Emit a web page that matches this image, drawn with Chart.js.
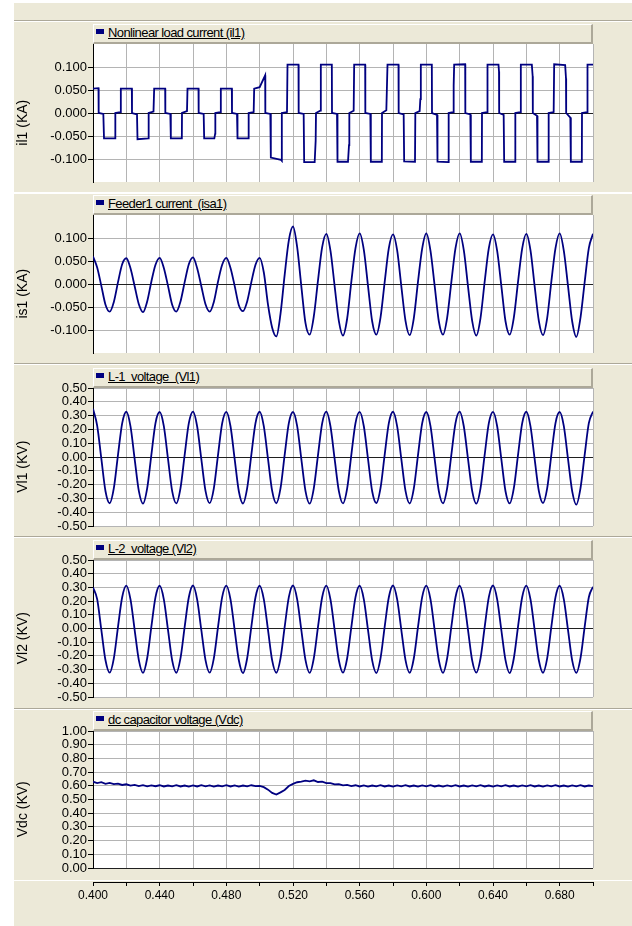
<!DOCTYPE html>
<html>
<head>
<meta charset="utf-8">
<script src="https://cdn.jsdelivr.net/npm/chart.js@4.4.1/dist/chart.umd.min.js"></script>
<style>
  body { margin:0; width:632px; height:926px; background:#fff; position:relative; overflow:hidden;
         font-family:"Liberation Sans", Arial, sans-serif; }
  #bg { position:absolute; left:14px; top:3px; width:618px; height:923px; background:#ece9d8; }
  .sep { position:absolute; left:14px; width:618px; height:1px; }
  .hdr { position:absolute; left:93px; width:500px; height:20px; box-sizing:border-box;
         border-top:1px solid #fff; border-left:1px solid #fff;
         border-right:2px solid #aca899; border-bottom:2px solid #aca899;
         background:#ece9d8; font-size:13px; letter-spacing:-0.6px; white-space:pre; line-height:16px; color:#000; }
  .hdr i { display:inline-block; width:8px; height:5px; background:#000080; margin:0 4px 0 2px; vertical-align:3px; }
  .hdr span { text-decoration:underline; }
  canvas { position:absolute; left:0; }
</style>
</head>
<body>
<div id="bg"></div>
<script>
// sample times (s) for the sampled waveforms
const sampleTime = [
  0.4000,0.4025,0.4050,0.4075,0.4100,0.4125,0.4150,0.4175,
  0.4200,0.4225,0.4250,0.4275,0.4300,0.4325,0.4350,0.4375,
  0.4400,0.4425,0.4450,0.4475,0.4500,0.4525,0.4550,0.4575,
  0.4600,0.4625,0.4650,0.4675,0.4700,0.4725,0.4750,0.4775,
  0.4800,0.4825,0.4850,0.4875,0.4900,0.4925,0.4950,0.4975,
  0.5000,0.5025,0.5050,0.5075,0.5100,0.5125,0.5150,0.5175,
  0.5200,0.5225,0.5250,0.5275,0.5300,0.5325,0.5350,0.5375,
  0.5400,0.5425,0.5450,0.5475,0.5500,0.5525,0.5550,0.5575,
  0.5600,0.5625,0.5650,0.5675,0.5700,0.5725,0.5750,0.5775,
  0.5800,0.5825,0.5850,0.5875,0.5900,0.5925,0.5950,0.5975,
  0.6000,0.6025,0.6050,0.6075,0.6100,0.6125,0.6150,0.6175,
  0.6200,0.6225,0.6250,0.6275,0.6300,0.6325,0.6350,0.6375,
  0.6400,0.6425,0.6450,0.6475,0.6500,0.6525,0.6550,0.6575,
  0.6600,0.6625,0.6650,0.6675,0.6700,0.6725,0.6750,0.6775,
  0.6800,0.6825,0.6850,0.6875,0.6900,0.6925,0.6950,0.6975,
  0.7000
];

// nonlinear load current il1 (kA) - breakpoints of the square-ish wave
const il1Time = [
  0.4000,0.4033,0.4034,0.4062,0.4066,0.4133,0.4134,0.4164,0.4167,
  0.4233,0.4234,0.4264,0.4267,0.4333,0.4334,0.4363,0.4367,
  0.4433,0.4434,0.4464,0.4467,0.4533,0.4534,0.4564,0.4567,
  0.4633,0.4634,0.4664,0.4667,0.4728,0.4733,0.4734,0.4764,0.4767,
  0.4833,0.4834,0.4864,0.4867,0.4933,0.4934,0.4964,0.4967,
  0.5000,0.5033,0.5034,0.5064,0.5067,0.5128,0.5132,0.5134,0.5164,0.5167,
  0.5233,0.5234,0.5264,0.5267,0.5330,0.5336,0.5338,0.5364,0.5367,
  0.5433,0.5434,0.5464,0.5467,0.5530,0.5536,0.5538,0.5564,0.5567,
  0.5633,0.5634,0.5664,0.5667,0.5733,0.5734,0.5760,0.5767,
  0.5833,0.5834,0.5864,0.5867,0.5932,0.5934,0.5960,0.5964,0.5967,
  0.6033,0.6034,0.6064,0.6067,0.6133,0.6134,0.6160,0.6164,0.6167,
  0.6233,0.6234,0.6264,0.6267,0.6333,0.6334,0.6364,0.6367,
  0.6433,0.6436,0.6437,0.6464,0.6467,0.6533,0.6534,0.6564,0.6567,
  0.6633,0.6638,0.6639,0.6664,0.6667,0.6733,0.6734,0.6764,0.6767,
  0.6833,0.6838,0.6839,0.6864,0.6867,0.6933,0.6934,0.6964,0.6967,0.7000
];
const il1Value = [
  0.053,0.054,0.000,-0.002,-0.055,-0.055,0.000,0.002,0.053,
  0.053,0.000,-0.003,-0.057,-0.055,0.000,0.003,0.053,
  0.053,0.000,-0.002,-0.055,-0.055,0.000,0.004,0.053,
  0.053,0.000,-0.002,-0.055,-0.055,-0.045,0.000,0.002,0.053,
  0.053,0.000,-0.002,-0.055,-0.055,0.000,0.002,0.053,
  0.056,0.082,0.000,-0.002,-0.097,-0.102,-0.104,0.000,0.002,0.105,
  0.105,0.000,-0.002,-0.107,-0.107,-0.060,0.000,0.005,0.105,
  0.105,0.000,-0.002,-0.106,-0.106,-0.070,0.000,0.005,0.105,
  0.105,0.000,-0.002,-0.106,-0.106,0.000,0.006,0.105,
  0.105,0.000,-0.003,-0.105,-0.106,0.000,0.004,0.030,0.105,
  0.105,0.000,-0.004,-0.106,-0.107,0.000,0.002,0.060,0.105,
  0.106,0.000,-0.003,-0.106,-0.106,0.000,0.002,0.105,
  0.105,0.090,0.000,-0.004,-0.106,-0.106,0.000,0.002,0.105,
  0.105,0.080,0.000,-0.006,-0.106,-0.106,0.000,0.002,0.106,
  0.104,0.075,0.000,-0.010,-0.106,-0.106,0.000,0.002,0.105,0.105
];

// feeder1 current isa1 (kA) at sampleTime
const is1Value = [
  0.060,0.036,-0.004,-0.045,-0.060,-0.039,0.004,0.043,
  0.056,0.034,-0.005,-0.044,-0.061,-0.038,0.005,0.042,
  0.057,0.035,-0.004,-0.045,-0.060,-0.038,0.004,0.043,
  0.058,0.034,-0.005,-0.044,-0.060,-0.039,0.005,0.042,
  0.057,0.035,-0.004,-0.046,-0.059,-0.038,0.004,0.042,
  0.057,0.025,-0.045,-0.095,-0.114,-0.065,0.020,0.095,
  0.125,0.080,-0.005,-0.085,-0.110,-0.070,0.008,0.080,
  0.109,0.072,-0.005,-0.080,-0.112,-0.075,0.005,0.078,
  0.110,0.074,-0.004,-0.081,-0.110,-0.073,0.004,0.078,
  0.108,0.073,-0.005,-0.080,-0.111,-0.074,0.005,0.077,
  0.110,0.072,-0.004,-0.081,-0.110,-0.073,0.004,0.078,
  0.110,0.073,-0.005,-0.080,-0.112,-0.074,0.005,0.078,
  0.108,0.072,-0.004,-0.081,-0.110,-0.073,0.004,0.077,
  0.109,0.073,-0.005,-0.080,-0.111,-0.074,0.005,0.078,
  0.110,0.072,-0.004,-0.081,-0.115,-0.073,0.004,0.078,
  0.109
];

// L-1 voltage Vl1 (kV)
const vl1Value = [
  0.350,0.228,-0.012,-0.248,-0.335,-0.226,0.016,0.244,
  0.328,0.222,-0.015,-0.246,-0.338,-0.228,0.014,0.246,
  0.326,0.224,-0.014,-0.247,-0.336,-0.225,0.015,0.245,
  0.329,0.221,-0.016,-0.245,-0.334,-0.227,0.014,0.244,
  0.327,0.223,-0.015,-0.248,-0.337,-0.226,0.016,0.246,
  0.328,0.222,-0.014,-0.246,-0.335,-0.228,0.015,0.245,
  0.326,0.224,-0.015,-0.247,-0.338,-0.225,0.014,0.244,
  0.329,0.221,-0.016,-0.245,-0.336,-0.227,0.016,0.246,
  0.327,0.223,-0.014,-0.248,-0.334,-0.226,0.015,0.245,
  0.328,0.222,-0.015,-0.246,-0.337,-0.228,0.014,0.244,
  0.326,0.224,-0.016,-0.247,-0.335,-0.225,0.016,0.246,
  0.329,0.221,-0.014,-0.245,-0.338,-0.227,0.015,0.245,
  0.327,0.223,-0.015,-0.248,-0.336,-0.226,0.014,0.244,
  0.328,0.222,-0.016,-0.246,-0.334,-0.228,0.016,0.246,
  0.326,0.224,-0.014,-0.247,-0.345,-0.225,0.015,0.245,
  0.330
];

// L-2 voltage Vl2 (kV)
const vl2Value = [
  0.300,0.214,-0.010,-0.232,-0.322,-0.218,0.012,0.228,
  0.313,0.212,-0.011,-0.231,-0.324,-0.217,0.011,0.229,
  0.312,0.213,-0.010,-0.233,-0.323,-0.216,0.012,0.228,
  0.314,0.211,-0.012,-0.231,-0.322,-0.218,0.010,0.229,
  0.313,0.213,-0.011,-0.232,-0.325,-0.217,0.012,0.228,
  0.312,0.212,-0.010,-0.233,-0.323,-0.218,0.011,0.229,
  0.314,0.213,-0.011,-0.231,-0.324,-0.216,0.012,0.228,
  0.313,0.211,-0.012,-0.232,-0.322,-0.217,0.010,0.229,
  0.312,0.213,-0.010,-0.233,-0.325,-0.218,0.012,0.228,
  0.314,0.212,-0.011,-0.231,-0.323,-0.217,0.011,0.229,
  0.313,0.213,-0.012,-0.232,-0.324,-0.216,0.012,0.228,
  0.312,0.211,-0.010,-0.233,-0.322,-0.218,0.010,0.229,
  0.314,0.213,-0.011,-0.231,-0.325,-0.217,0.012,0.228,
  0.313,0.212,-0.012,-0.232,-0.323,-0.218,0.011,0.229,
  0.312,0.213,-0.010,-0.233,-0.324,-0.216,0.012,0.228,
  0.305
];

// dc capacitor voltage Vdc (kV)
const vdcValue = [
  0.630,0.620,0.626,0.614,0.621,0.612,0.616,0.606,
  0.611,0.601,0.607,0.598,0.605,0.596,0.603,0.597,
  0.604,0.595,0.602,0.596,0.604,0.595,0.602,0.594,
  0.603,0.595,0.604,0.596,0.603,0.594,0.602,0.596,
  0.604,0.595,0.603,0.594,0.602,0.596,0.604,0.597,
  0.600,0.590,0.572,0.548,0.536,0.552,0.570,0.598,
  0.614,0.626,0.630,0.638,0.632,0.640,0.628,0.630,
  0.619,0.620,0.610,0.612,0.603,0.607,0.598,0.604,
  0.595,0.603,0.594,0.602,0.596,0.604,0.595,0.602,
  0.594,0.603,0.596,0.604,0.595,0.602,0.594,0.603,
  0.596,0.604,0.595,0.602,0.594,0.603,0.596,0.604,
  0.595,0.602,0.594,0.603,0.596,0.604,0.595,0.602,
  0.594,0.603,0.596,0.604,0.595,0.602,0.594,0.603,
  0.596,0.604,0.595,0.602,0.594,0.603,0.596,0.604,
  0.595,0.602,0.594,0.603,0.596,0.604,0.595,0.602,
  0.597
];

// axis ticks
const gridTime = [0.40,0.42,0.44,0.46,0.48,0.50,0.52,0.54,0.56,0.58,0.60,0.62,0.64,0.66,0.68,0.70];
const timeLabels = [0.40,0.44,0.48,0.52,0.56,0.60,0.64,0.68];
const currentTicks = [-0.10,-0.05,0.00,0.05,0.10];
const voltTicks = [-0.5,-0.4,-0.3,-0.2,-0.1,0.0,0.1,0.2,0.3,0.4,0.5];
const vdcTicks = [0.0,0.1,0.2,0.3,0.4,0.5,0.6,0.7,0.8,0.9,1.0];

Chart.defaults.font.family = '"Liberation Sans", Arial, sans-serif';
Chart.defaults.color = '#000';

const panels = [
  {legend:'Nonlinear load current (il1)', axis:'il1 (KA)', xs:il1Time, ys:il1Value, min:-0.15, max:0.15, ticks:currentTicks, dec:3, smooth:false, top:44, h:138},
  {legend:'Feeder1 current  (isa1)', axis:'is1 (KA)', xs:sampleTime, ys:is1Value, min:-0.15, max:0.15, ticks:currentTicks, dec:3, smooth:true, top:215, h:138},
  {legend:'L-1  voltage  (Vl1)', axis:'Vl1 (KV)', xs:sampleTime, ys:vl1Value, min:-0.5, max:0.5, ticks:voltTicks, dec:2, smooth:true, top:388, h:138},
  {legend:'L-2  voltage (Vl2)', axis:'Vl2 (KV)', xs:sampleTime, ys:vl2Value, min:-0.5, max:0.5, ticks:voltTicks, dec:2, smooth:true, top:560, h:137},
  {legend:'dc capacitor voltage (Vdc)', axis:'Vdc (KV)', xs:sampleTime, ys:vdcValue, min:0, max:1, ticks:vdcTicks, dec:2, smooth:false, top:731, h:137}
];

function fmt(v, dec) {
  if (Math.abs(v) < 1e-9) v = 0;
  return v.toFixed(dec);
}

const plotBackground = {
  id: 'plotBackground',
  beforeDraw(chart) {
    const a = chart.chartArea, ctx = chart.ctx;
    ctx.save();
    ctx.fillStyle = '#fff';
    ctx.fillRect(a.left, a.top, a.right - a.left, a.bottom - a.top);
    ctx.restore();
  }
};

function addLine(y, color) {
  const d = document.createElement('div');
  d.className = 'sep';
  d.style.top = y + 'px';
  d.style.background = color;
  document.body.appendChild(d);
}

// etched separators
addLine(20, '#aca899'); addLine(21, '#fff');
addLine(192, '#fff'); addLine(193, '#fff');
addLine(363, '#aca899'); addLine(364, '#fff');
addLine(536, '#aca899'); addLine(537, '#fff');
addLine(708, '#aca899'); addLine(709, '#fff');
addLine(880, '#fff');

panels.forEach(p => {
  const cv = document.createElement('canvas');
  cv.width = 632; cv.height = p.h + 32;
  cv.style.top = (p.top - 22) + 'px';
  document.body.appendChild(cv);

  new Chart(cv, {
    type: 'line',
    data: {
      datasets: [{
        label: p.legend,
        data: p.xs.map((x, i) => ({x: x, y: p.ys[i]})),
        borderColor: '#000080',
        borderWidth: 1.8,
        pointRadius: 0,
        tension: p.smooth ? 0.4 : 0,
        cubicInterpolationMode: p.smooth ? 'monotone' : 'default'
      }]
    },
    options: {
      responsive: false,
      animation: false,
      devicePixelRatio: 1,
      layout: {padding: {top: 22, bottom: 10, left: 12, right: 39}},
      plugins: {legend: {display: false}, tooltip: {enabled: false}},
      scales: {
        x: {
          type: 'linear', min: 0.4, max: 0.7,
          afterBuildTicks: s => { s.ticks = gridTime.map(v => ({value: v})); },
          ticks: {display: false},
          grid: {color: '#b4b4b4', drawTicks: false},
          border: {display: false},
          afterFit: s => { s.height = 0; }
        },
        y: {
          min: p.min, max: p.max,
          afterBuildTicks: s => { s.ticks = p.ticks.map(v => ({value: v})); },
          ticks: {callback: v => fmt(v, p.dec), font: {size: 13}, color: '#000', padding: 1, autoSkip: false},
          grid: {
            color: c => (c.tick && Math.abs(c.tick.value) < 1e-9) ? '#202020' : '#b4b4b4',
            tickColor: '#000', tickLength: 5
          },
          border: {color: '#000'},
          title: {display: true, text: p.axis + '     ', font: {size: 14}, color: '#000', padding: {top: 3, bottom: 3}},
          afterFit: s => { s.width = 81; }
        }
      }
    },
    plugins: [plotBackground]
  });

  const hd = document.createElement('div');
  hd.className = 'hdr';
  hd.style.top = (p.top - 20) + 'px';
  hd.innerHTML = '<i></i><span></span>';
  hd.querySelector('span').textContent = p.legend;
  document.body.appendChild(hd);
});

// time axis strip below the last panel
const axCv = document.createElement('canvas');
axCv.width = 632; axCv.height = 46;
axCv.style.top = '870px';
document.body.appendChild(axCv);
new Chart(axCv, {
  type: 'line',
  data: {datasets: []},
  options: {
    responsive: false,
    animation: false,
    devicePixelRatio: 1,
    layout: {padding: {top: 11, bottom: 0, left: 93, right: 39}},
    plugins: {legend: {display: false}, tooltip: {enabled: false}},
    scales: {
      x: {
        type: 'linear', min: 0.4, max: 0.7,
        afterBuildTicks: s => { s.ticks = gridTime.map(v => ({value: v})); },
        ticks: {
          callback: v => timeLabels.some(t => Math.abs(t - v) < 1e-6) ? v.toFixed(3) : '',
          font: {size: 12}, color: '#000', padding: 2, maxRotation: 0, autoSkip: false
        },
        grid: {drawOnChartArea: false, tickLength: 4, tickColor: '#000'},
        border: {color: '#000'},
        afterFit: s => { s.height = 34; }
      },
      y: {display: false}
    }
  }
});
</script>
</body>
</html>
